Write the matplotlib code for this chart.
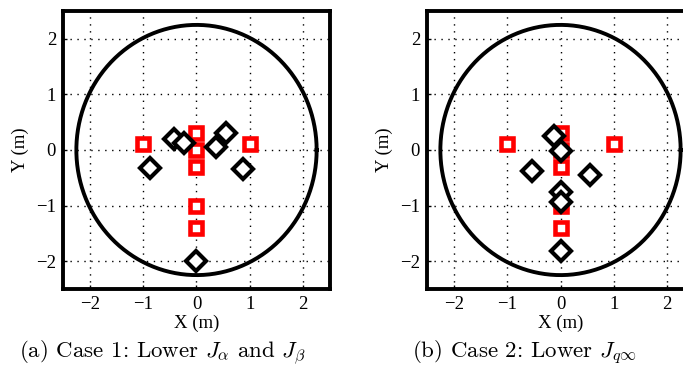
import numpy as np
import matplotlib
matplotlib.use("Agg")
import matplotlib.pyplot as plt

plt.rcParams["font.family"] = "serif"
plt.rcParams["font.serif"] = ["Liberation Serif"]
plt.rcParams["mathtext.fontset"] = "cm"
plt.rcParams["font.size"] = 13.5

# red squares (same layout in both cases)
sq_x = [-1, 1, 0, 0, 0, 0, 0]
sq_y = [0.1, 0.1, 0.3, 0.0, -0.3, -1.0, -1.4]

# black diamonds, case 1
d1_x = [-0.42, -0.24, -0.88, 0.36, 0.55, 0.88, 0.0]
d1_y = [0.20, 0.13, -0.32, 0.05, 0.31, -0.34, -2.0]

# black diamonds, case 2
d2_x = [-0.13, 0.0, -0.53, 0.55, 0.0, 0.0, 0.0]
d2_y = [0.25, -0.01, -0.37, -0.45, -0.75, -0.94, -1.81]

radius = 2.25
ticks = [-2, -1, 0, 1, 2]
captions = [r"(a) Case 1: Lower $J_\alpha$ and $J_\beta$",
            r"(b) Case 2: Lower $J_{q\infty}$"]

W, H = 683, 377
fig = plt.figure(figsize=(W / 100, H / 100), dpi=100)

panels = [(63, d1_x, d1_y, 162), (427, d2_x, d2_y, 524)]
for i, (left, dx, dy, capx) in enumerate(panels):
    ax = fig.add_axes([left / W, (H - 289) / H, 267 / W, 278 / H])
    t = np.linspace(0, 2 * np.pi, 400)
    ax.plot(radius * np.cos(t), radius * np.sin(t), color="black", lw=2.8, zorder=2)
    ax.plot(sq_x, sq_y, "s", ms=8.5, mfc="white", mec="red", mew=3.3, ls="none", zorder=3)
    ax.plot(dx, dy, "D", ms=10, mfc="white", mec="black", mew=3.0, ls="none", zorder=4)
    ax.set_xlim(-2.5, 2.5)
    ax.set_ylim(-2.5, 2.5)
    ax.set_xticks(ticks)
    ax.set_yticks(ticks)
    ax.grid(True, color="black", ls=(0, (1, 4)), lw=1.0)
    ax.tick_params(direction="in", length=3, width=1, pad=5, labelsize=13.5)
    for s in ax.spines.values():
        s.set_linewidth(2.8)
    ax.set_xlabel("X (m)", labelpad=1)
    ax.set_ylabel("Y (m)", labelpad=5)
    fig.text(capx / W, (H - 353) / H, captions[i], ha="center", va="center",
             fontsize=16.5, family="cmr10")

fig.savefig("out.png", dpi=100)
